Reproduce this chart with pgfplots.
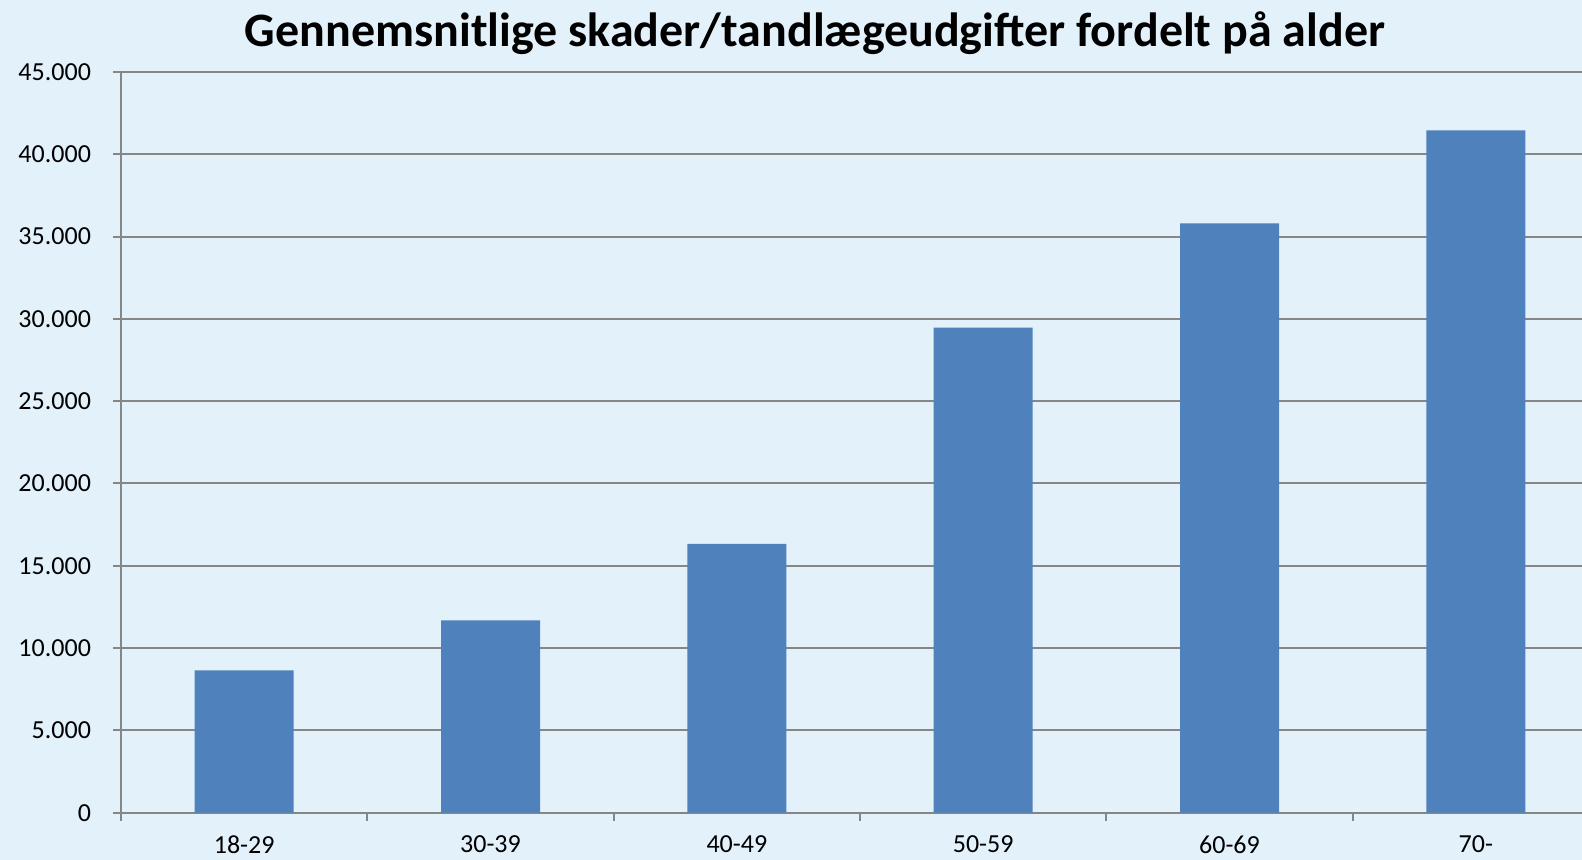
\documentclass[border=0pt]{standalone}
\usepackage{pgfplots}
\pgfplotsset{compat=1.18}
\usepackage{fontspec}
\setmainfont{Carlito}
\definecolor{bg}{RGB}{227,241,251}
\definecolor{barc}{RGB}{79,129,189}
\definecolor{gridc}{RGB}{134,134,134}
\begin{document}
\begin{tikzpicture}
\fill[bg] (0,0) rectangle (791pt,430pt);
\useasboundingbox (0,0) rectangle (791pt,430pt);
\begin{axis}[
  at={(60.5pt,23.65pt)}, anchor=south west,
  scale only axis, width=739pt, height=370.35pt,
  xmin=-0.5, xmax=5.5, ymin=0, ymax=45000,
  ytick={0,5000,...,45000},
  scaled y ticks=false,
  ymajorgrids, grid style={gridc, line width=1pt},
  axis x line*=bottom, axis y line*=left,
  axis line style={gridc, line width=1pt, -},
  xtick={-0.5,0.5,...,5.5}, xticklabels={},
  extra x ticks={0,1,2,3,4,5},
  extra x tick labels={18-29,30-39,40-49,50-59,60-69,70-},
  extra x tick style={major tick length=0pt, grid=none, xticklabel style={yshift=-8pt}},
  tick align=outside, major tick length=4pt,
  tick style={gridc, line width=1pt},
  tick label style={font=\fontsize{13}{15}\selectfont, text=black},
  yticklabel style={xshift=-7.5pt, /pgf/number format/fixed, /pgf/number format/1000 sep={.}, /pgf/number format/assume math mode=true},
]
\addplot[ybar, bar width=49.5pt, fill=barc, draw=none]
  coordinates {(0,8650) (1,11690) (2,16330) (3,29470) (4,35810) (5,41460)};
\end{axis}
\node[anchor=base, font=\bfseries\fontsize{24}{28}\selectfont] at (407.5pt,406.5pt) {Gennemsnitlige skader/tandlægeudgifter fordelt på alder};
\end{tikzpicture}
\end{document}
